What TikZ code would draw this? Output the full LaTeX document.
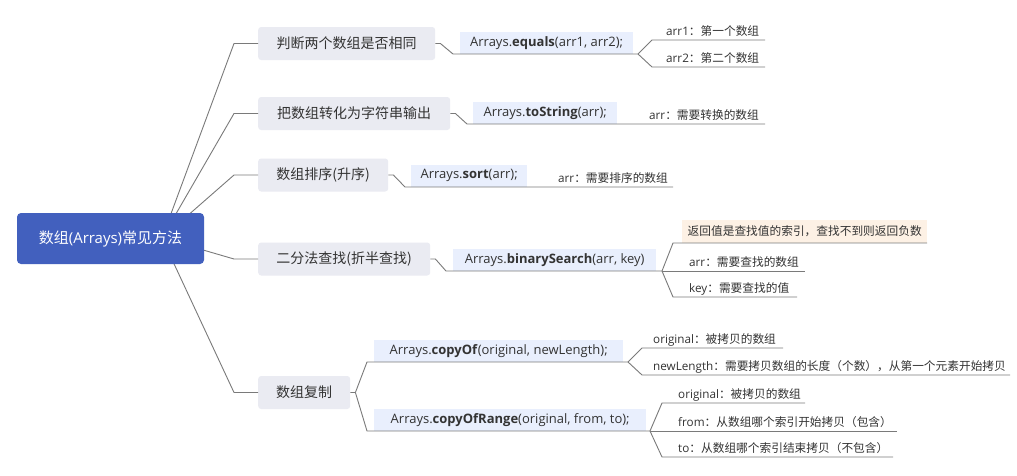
\documentclass[tikz,border=0pt]{standalone}
\usepackage{fontspec}
\setmainfont{Open Sans}
\newfontfamily\cjk{Noto Sans CJK SC}
\newcommand\zh[1]{{\cjk #1}}
\definecolor{rootblue}{HTML}{4260BE}
\definecolor{topicg}{HTML}{EAEBF2}
\definecolor{codeb}{HTML}{E9EFFD}
\definecolor{beige}{HTML}{FDF1E5}
\definecolor{lineg}{HTML}{7A7A7A}
\definecolor{txt}{HTML}{333333}
\begin{document}
\begin{tikzpicture}[x=1pt,y=-1pt,
  line/.style={draw=lineg, line width=0.9pt, line join=round},
  rootnode/.style={fill=rootblue, rounded corners=4pt, text=white, font=\fontsize{15}{18}\selectfont, minimum width=187pt, minimum height=51pt, inner sep=0pt},
  topic/.style={fill=topicg, rounded corners=3pt, text=txt, font=\cjk\fontsize{14}{17}\selectfont, minimum height=33pt, inner sep=0pt, anchor=west},
  code/.style={fill=codeb, text=txt, font=\fontsize{13}{16}\selectfont, minimum height=22pt, inner sep=0pt, anchor=south west},
  leaf/.style={text=txt, font=\fontsize{11.7}{14}\selectfont, inner sep=0pt, anchor=base west},
  note/.style={fill=beige, text=txt, font=\cjk\fontsize{11.7}{14}\selectfont, minimum height=23pt, minimum width=245pt, inner sep=0pt, anchor=south west},
]
\useasboundingbox[fill=white] (0,0) rectangle (1017,475);

% ---------- coordinates ----------
\coordinate (rc) at (162,238);
\coordinate (u1) at (453,54);   \coordinate (b1) at (638,54);
\coordinate (u2) at (467,124);
\coordinate (u3) at (405,187);
\coordinate (u4) at (446,271);  \coordinate (b4) at (662,271);
\coordinate (u5a) at (367,362); \coordinate (b5a) at (628,362);
\coordinate (u5b) at (367,431); \coordinate (b5b) at (650,431);
\coordinate (s1a) at (652,40);  \coordinate (e1a) at (765,40);
\coordinate (s1b) at (652,67);  \coordinate (e1b) at (765,67);
\coordinate (e2) at (765,124);
\coordinate (e3) at (673,187);
\coordinate (s4a) at (673,243); \coordinate (e4a) at (927,243);
\coordinate (e4b) at (805,271);
\coordinate (s4c) at (673,297); \coordinate (e4c) at (797,297);
\coordinate (s5a1) at (642,348); \coordinate (e5a1) at (783,348);
\coordinate (s5a2) at (642,375); \coordinate (e5a2) at (1010,375);
\coordinate (s5b1) at (662,403); \coordinate (e5b1) at (805,403);
\coordinate (e5b2) at (897,431);
\coordinate (s5b3) at (662,457); \coordinate (e5b3) at (893,457);

% ---------- nodes ----------
\node[topic, minimum width=177pt] (t1) at (258,43.5) {判断两个数组是否相同};
\node[topic, minimum width=192pt] (t2) at (258,113.5) {把数组转化为字符串输出};
\node[topic, minimum width=130pt] (t3) at (258,175) {数组排序(升序)};
\node[topic, minimum width=172pt] (t4) at (258,259) {二分法查找(折半查找)};
\node[topic, minimum width=92pt] (t5) at (258,392.5) {数组复制};

\node[code, minimum width=173pt] (c1) at (460,54) {Arrays.\textbf{equals}(arr1, arr2);};
\node[code, minimum width=144pt] (c2) at (473,124) {Arrays.\textbf{toString}(arr);};
\node[code, minimum width=116pt] (c3) at (411,187) {Arrays.\textbf{sort}(arr);};
\node[code, minimum width=203pt] (c4) at (453,271) {Arrays.\textbf{binarySearch}(arr, key)};
\node[code, minimum width=249pt] (c5a) at (374,362) {Arrays.\textbf{copyOf}(original, newLength);};
\node[code, minimum width=272pt] (c5b) at (374,431) {Arrays.\textbf{copyOfRange}(original, from, to);};

\node[leaf] (l1a) at (666,35.5) {arr1\zh{：第一个数组}};
\node[leaf] (l1b) at (666,62.5) {arr2\zh{：第二个数组}};
\node[leaf] (l2) at (649,119.5) {arr\zh{：需要转换的数组}};
\node[leaf] (l3) at (558,182.5) {arr\zh{：需要排序的数组}};
\node[note] (l4a) at (682,243) {返回值是查找值的索引，查找不到则返回负数};
\node[leaf] (l4b) at (689,266.5) {arr\zh{：需要查找的数组}};
\node[leaf] (l4c) at (689,292.5) {key\zh{：需要查找的值}};
\node[leaf] (l5a1) at (653,343.5) {original\zh{：被拷贝的数组}};
\node[leaf] (l5a2) at (653,370.5) {newLength\zh{：需要拷贝数组的长度（个数），从第一个元素开始拷贝}};
\node[leaf] (l5b1) at (678,398.5) {original\zh{：被拷贝的数组}};
\node[leaf] (l5b2) at (678,426.5) {from\zh{：从数组哪个索引开始拷贝（包含）}};
\node[leaf] (l5b3) at (678,452.5) {to\zh{：从数组哪个索引结束拷贝（不包含）}};

% ---------- connectors ----------
\foreach \t in {t1,t2,t3,t4,t5}
  \draw[line] (rc) -- ([xshift=-24pt]\t.west) -- (\t.west);

\draw[line] (t1.east) -- ++(5,0) -- (u1) -- (b1);
\draw[line] (b1) -- (s1a) -- (e1a);
\draw[line] (b1) -- (s1b) -- (e1b);

\draw[line] (t2.east) -- ++(5,0) -- (u2) -- (e2);
\draw[line] (t3.east) -- ++(5,0) -- (u3) -- (e3);

\draw[line] (t4.east) -- ++(5,0) -- (u4) -- (b4);
\draw[line] (b4) -- (s4a) -- (e4a);
\draw[line] (b4) -- (e4b);
\draw[line] (b4) -- (s4c) -- (e4c);

\draw[line] (t5.east) -- ++(5,0) -- (u5a) -- (b5a);
\draw[line] (t5.east) ++(5,0) -- (u5b) -- (b5b);
\draw[line] (b5a) -- (s5a1) -- (e5a1);
\draw[line] (b5a) -- (s5a2) -- (e5a2);
\draw[line] (b5b) -- (s5b1) -- (e5b1);
\draw[line] (b5b) -- (e5b2);
\draw[line] (b5b) -- (s5b3) -- (e5b3);

% root drawn last so the lines start behind it
\node[rootnode] (root) at (110.5,238.5) {\zh{数组}(Arrays)\zh{常见方法}};
\end{tikzpicture}
\end{document}
